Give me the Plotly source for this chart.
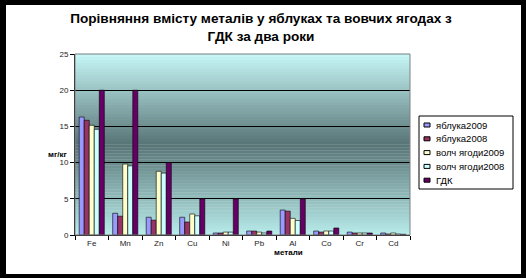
import plotly.graph_objects as go

metals = ["Fe", "Mn", "Zn", "Cu", "Ni", "Pb", "Al", "Co", "Cr", "Cd"]
apples_2009 = [16.3, 3.0, 2.45, 2.45, 0.28, 0.55, 3.45, 0.55, 0.4, 0.28]
apples_2008 = [15.85, 2.6, 2.05, 1.8, 0.28, 0.55, 3.3, 0.4, 0.28, 0.14]
berries_2009 = [15.15, 9.8, 8.8, 2.9, 0.4, 0.4, 2.3, 0.55, 0.28, 0.28]
berries_2008 = [14.6, 9.55, 8.55, 2.65, 0.4, 0.28, 2.0, 0.55, 0.28, 0.14]
gdk = [20, 20, 10, 5, 5, 0.55, 5, 0.97, 0.28, 0.1]

series = [
    ("яблука2009", apples_2009, "#9999FF"),
    ("яблука2008", apples_2008, "#993366"),
    ("волч ягоди2009", berries_2009, "#FFFFCC"),
    ("волч ягоди2008", berries_2008, "#CCFFFF"),
    ("ГДК", gdk, "#660066"),
]

W, H = 526, 278
L, R, T, B = 75, 116, 54, 43
PW, PH = W - L - R, H - T - B


def px(xp):
    return (xp - L) / PW


def py(yp):
    return (H - B - yp) / PH


fig = go.Figure()
for name, vals, col in series:
    fig.add_trace(go.Bar(
        x=metals, y=vals, name=name, showlegend=False,
        marker=dict(color=col, line=dict(color="black", width=0.6)),
    ))

shapes = []
# white page inside black frame
shapes.append(dict(type="rect", xref="paper", yref="paper",
                   x0=px(6), x1=px(521), y0=py(274), y1=py(5),
                   fillcolor="white", line=dict(width=0), layer="below"))

# vertical gradient background of plot area
top_c = (200, 248, 248)
mid_c = (88, 116, 118)
bot_c = (186, 236, 236)
n = 60
for i in range(n):
    f0 = i / n
    f1 = (i + 1) / n
    fm = (f0 + f1) / 2  # 0 bottom, 1 top
    mid = 0.5
    if fm < mid:
        t = fm / mid
        c = [bot_c[k] + (mid_c[k] - bot_c[k]) * t for k in range(3)]
    else:
        t = (fm - mid) / (1 - mid)
        c = [mid_c[k] + (top_c[k] - mid_c[k]) * t for k in range(3)]
    shapes.append(dict(type="rect", xref="x domain", yref="y domain",
                       x0=0, x1=1, y0=f0, y1=f1 + 0.002,
                       fillcolor="rgb(%d,%d,%d)" % tuple(int(v) for v in c),
                       line=dict(width=0), layer="below"))
# plot area border
shapes.append(dict(type="rect", xref="x domain", yref="y domain",
                   x0=0, x1=1, y0=0, y1=1, line=dict(color="#808080", width=1),
                   fillcolor="rgba(0,0,0,0)", layer="above"))

annotations = [
    dict(text="<b>мг/кг</b>", xref="paper", yref="paper",
         x=px(46), y=py(154), showarrow=False, font=dict(size=8, color="black")),
    dict(text="<b>метали</b>", xref="paper", yref="paper",
         x=px(305), y=py(259), showarrow=False, font=dict(size=8, color="black")),
]

# custom legend box
lx0, lx1, ly0, ly1 = 419, 513, 116, 189
shapes.append(dict(type="rect", xref="paper", yref="paper",
                   x0=px(lx0), x1=px(lx1), y0=py(ly1), y1=py(ly0),
                   fillcolor="white", line=dict(color="black", width=1), layer="above"))
for i, (name, vals, col) in enumerate(series):
    yc = 125 + i * 13.8
    shapes.append(dict(type="rect", xref="paper", yref="paper",
                       x0=px(424), x1=px(430), y0=py(yc + 2), y1=py(yc - 2),
                       fillcolor=col, line=dict(color="black", width=1), layer="above"))
    annotations.append(dict(text=name, xref="paper", yref="paper",
                            x=px(434), y=py(yc), xanchor="left", yanchor="middle",
                            showarrow=False, font=dict(size=9.5, color="black")))

fig.update_layout(
    width=W, height=H,
    margin=dict(l=L, r=R, t=T, b=B),
    paper_bgcolor="black",
    plot_bgcolor="rgba(0,0,0,0)",
    barmode="group", bargap=0.25, bargroupgap=0,
    font=dict(family="Liberation Sans, Arial, sans-serif", size=8, color="black"),
    title=dict(text="<b>Порівняння вмісту металів у яблуках та вовчих ягодах з<br>ГДК за два роки</b>",
               x=px(261), xref="paper", xanchor="center",
               yref="container", y=1 - 23 / H, yanchor="middle",
               font=dict(size=13.6, color="black")),
    shapes=shapes,
    annotations=annotations,
    showlegend=False,
)
fig.update_xaxes(type="category", showline=True, linecolor="black", linewidth=1,
                 ticks="outside", tickson="boundaries", ticklen=4, tickcolor="black",
                 showgrid=False, tickfont=dict(size=8, color="#222"))
fig.update_yaxes(range=[0, 25], tickvals=[0, 5, 10, 15, 20, 25], showline=True,
                 linecolor="black", linewidth=1, ticks="outside", ticklen=4,
                 tickcolor="black", showgrid=True, gridcolor="black", gridwidth=1,
                 zeroline=False, tickfont=dict(size=8, color="#222"))

fig.write_html("out.html")
